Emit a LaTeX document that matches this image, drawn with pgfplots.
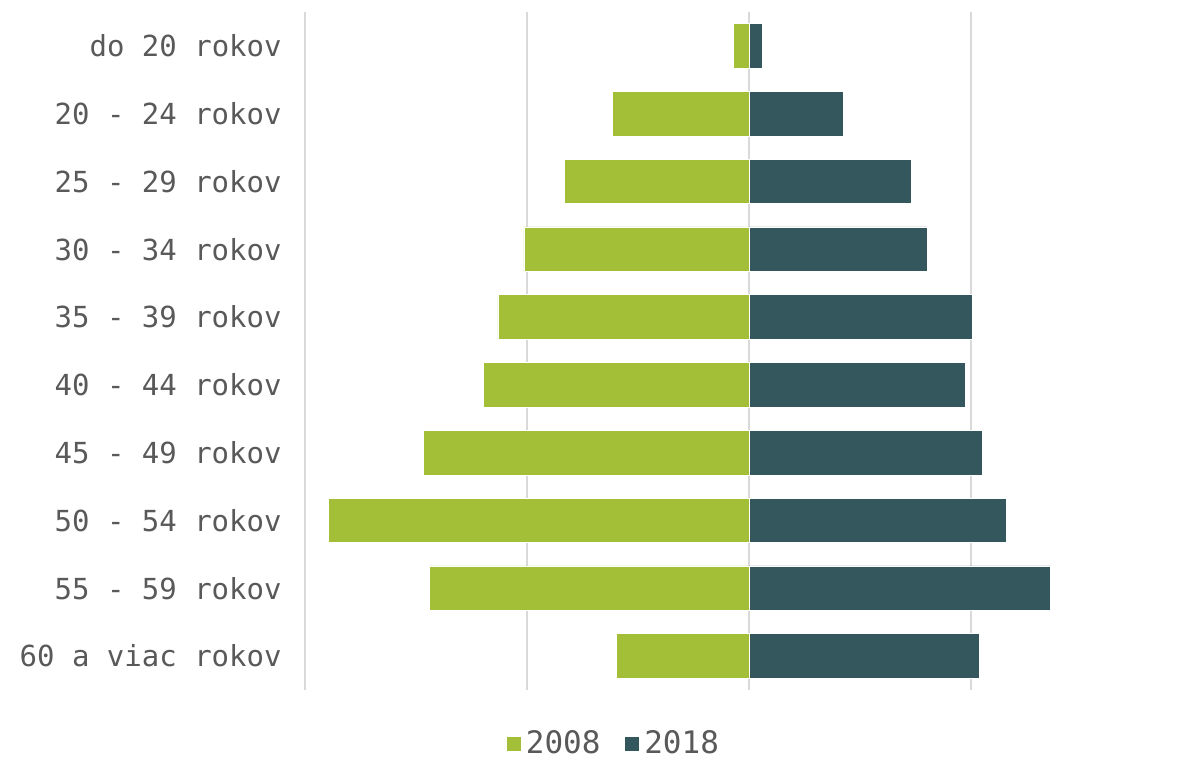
\documentclass[border=0pt]{standalone}
\usepackage{pgfplots}
\pgfplotsset{compat=1.18}
\usepackage{fontspec}
\setmainfont{DejaVu Sans Mono}
\definecolor{olive2008}{HTML}{A2BF37}
\definecolor{teal2018}{HTML}{34575D}
\definecolor{txtgray}{HTML}{595959}
\definecolor{gridgray}{HTML}{D9D9D9}

% values in grid units (one grid step = 1)
\pgfplotstableread{
pos y2008 y2018
0 -0.072 0.059
1 -0.617 0.423
2 -0.833 0.730
3 -1.014 0.802
4 -1.131 1.005
5 -1.198 0.973
6 -1.468 1.050
7 -1.896 1.158
8 -1.441 1.356
9 -0.599 1.036
}\agedata

\begin{document}
\begin{tikzpicture}
\path[use as bounding box] (0,0) rectangle (589bp,379bp);
\begin{axis}[
    at={(152.5bp,34bp)}, anchor=south west,
    scale only axis,
    width=436.5bp, height=339bp,
    xbar, bar shift=0pt, bar width=0.66,
    xmin=-2, xmax=1.932,
    ymin=-0.5, ymax=9.5, y dir=reverse,
    xtick={-2,-1,0,1}, xticklabels={},
    ytick={0,...,9},
    yticklabels={do 20 rokov, 20 - 24 rokov, 25 - 29 rokov, 30 - 34 rokov,
                 35 - 39 rokov, 40 - 44 rokov, 45 - 49 rokov, 50 - 54 rokov,
                 55 - 59 rokov, 60 a viac rokov},
    major tick length=0pt,
    axis line style={draw=none},
    xmajorgrids=true,
    grid style={gridgray, line width=1bp},
    tick label style={font=\fontsize{14.5bp}{16bp}\selectfont, text=txtgray},
    y tick label style={inner sep=0pt, anchor=east, xshift=-11.5bp},
    legend style={at={(0.3545,-0.079)}, anchor=center, draw=none,
        legend columns=2, font=\fontsize{15.5bp}{16bp}\selectfont, text=txtgray,
        /tikz/every even column/.append style={column sep=10bp},
        inner sep=0pt},
    legend image code/.code={\fill[#1] (-1.5bp,-3.75bp) rectangle (6bp,3.75bp);},
]
\addplot[fill=olive2008, draw=white, line width=0.4bp] table[x=y2008, y=pos] {\agedata};
\addplot[fill=teal2018, draw=white, line width=0.4bp] table[x=y2018, y=pos] {\agedata};
\legend{2008, 2018}
\end{axis}
\end{tikzpicture}
\end{document}
